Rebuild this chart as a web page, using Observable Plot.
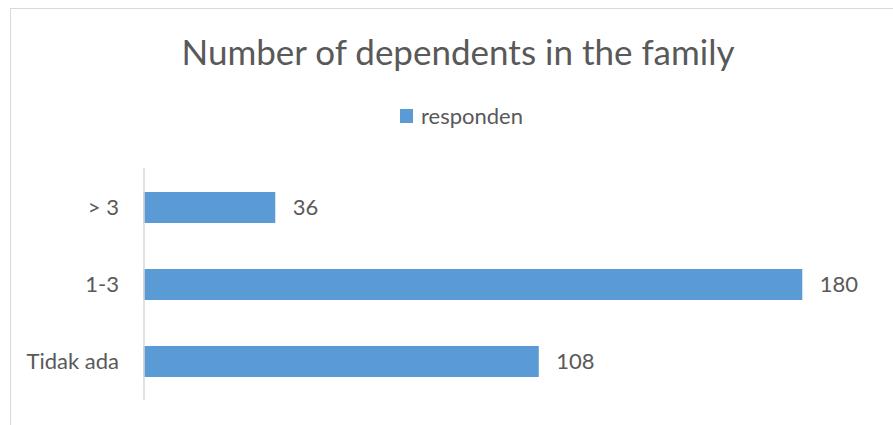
<!DOCTYPE html>
<html>
<head>
<meta charset="utf-8">
<script src="https://cdn.jsdelivr.net/npm/d3@7"></script>
<script src="https://cdn.jsdelivr.net/npm/@observablehq/plot@0.6"></script>
<style>
  html, body { margin: 0; padding: 0; background: #fff; }
  #wrap { position: relative; width: 893px; height: 425px; overflow: hidden; font-family: Lato, "Open Sans", sans-serif; color: #595959; }
  #frame { position: absolute; left: 10px; top: 8px; width: 900px; height: 430px; border: 1px solid #d9d9d9; box-sizing: border-box; }
  #title { position: absolute; left: 0; width: 916px; top: 31px; text-align: center; font-size: 35px; line-height: 40px; white-space: nowrap; }
  #legend { position: absolute; left: 400px; top: 103px; font-size: 22px; line-height: 26px; white-space: nowrap; display: flex; align-items: center; }
  #legend .sw { display: inline-block; width: 13px; height: 14px; background: #5B9BD5; margin-right: 8px; }
  #chart { position: absolute; left: 0; top: 160px; }
</style>
</head>
<body>
<div id="wrap">
  <div id="frame"></div>
  <div id="title"></div>
  <div id="legend"><span class="sw"></span><span id="legtext"></span></div>
  <div id="chart"></div>
</div>
<script>
const titleText = "Number of dependents in the family";
const seriesName = "responden";
const categories = ["> 3", "1-3", "Tidak ada"];
const values = [36, 180, 108];

document.getElementById("title").textContent = titleText;
document.getElementById("legtext").textContent = seriesName;

const data = categories.map((c, i) => ({category: c, value: values[i]}));

const chart = Plot.plot({
  width: 893,
  height: 250,
  marginLeft: 143.5,
  marginRight: 17.5,
  marginTop: 8,
  marginBottom: 10,
  style: {fontFamily: "Lato, 'Open Sans', sans-serif", color: "#595959", background: "transparent", overflow: "visible"},
  x: {domain: [0, 200], axis: null},
  y: {domain: categories, paddingInner: 0.603, paddingOuter: 0.3015, axis: null},
  marks: [
    Plot.barX(data, {x: "value", y: "category", fill: "#5B9BD5"}),
    Plot.ruleX([0], {stroke: "#d9d9d9", strokeWidth: 1.5}),
    Plot.axisY({tickSize: 0, tickPadding: 25, fontSize: 22, fill: "#595959", label: null}),
    Plot.text(data, {x: "value", y: "category", text: d => String(d.value), textAnchor: "start", dx: 17, fontSize: 22, fill: "#595959"})
  ]
});
document.getElementById("chart").appendChild(chart);
</script>
</body>
</html>
